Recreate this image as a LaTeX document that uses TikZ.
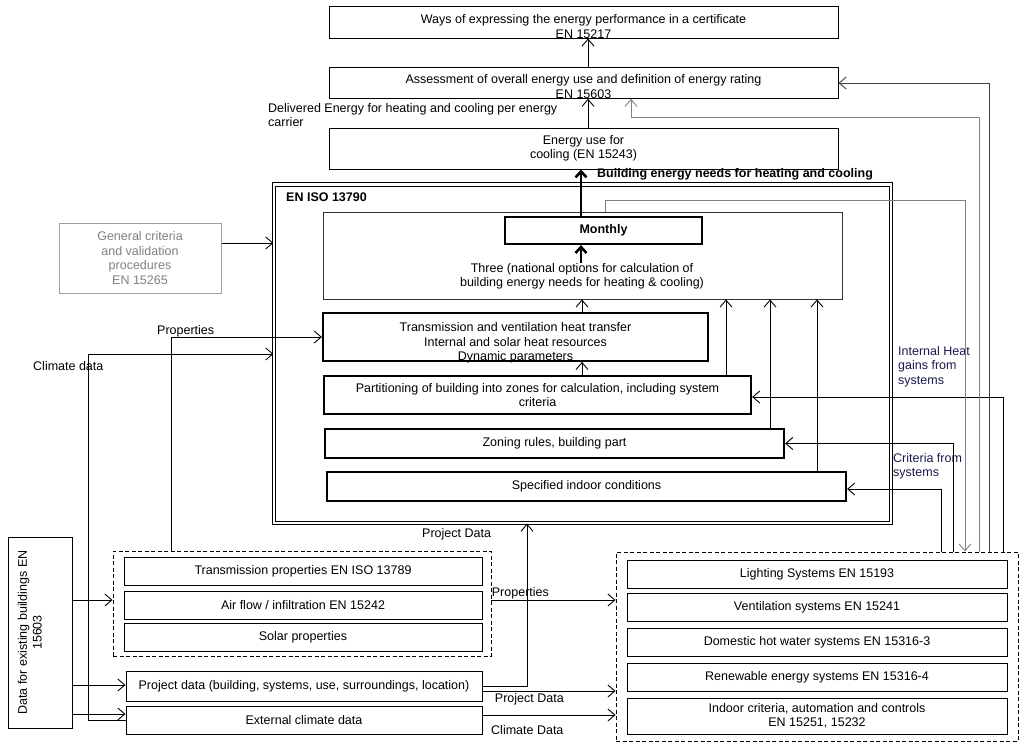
\documentclass[tikz,border=0pt]{standalone}
\usepackage{fontspec}
\setmainfont{Liberation Sans}
\usetikzlibrary{arrows.meta}
\definecolor{labelblue}{RGB}{25,25,80}
\begin{document}
\begin{tikzpicture}[x=1pt,y=-1pt,
  font=\fontsize{12.5}{14.5}\selectfont,
  box/.style={draw, line width=1pt, align=center, inner sep=0pt},
  thickbox/.style={box, line width=2.2pt},
  grpbox/.style={draw, line width=0.9pt, dash pattern=on 4pt off 2.5pt},
  drop/.style 2 args={text height=#1, text depth=#2},
  bold/.style={font=\fontsize{12.5}{14.5}\selectfont\bfseries},
  txt/.style={inner sep=0pt, align=left},
  arr/.style={-{Straight Barb[length=7pt,width=12pt]}, line width=0.9pt},
  thickarr/.style={-{Straight Barb[length=6pt,width=11pt]}, line width=2.6pt}]
\useasboundingbox (0,0) rectangle (1024,747);

% certificate, rating and energy use
\node[box, minimum width=509, minimum height=30, drop={32pt}{-2pt}] (ways) at (583.5,22)
  {Ways of expressing the energy performance in a certificate\\EN 15217};
\node[box, minimum width=509, minimum height=30, drop={30.5pt}{-0.5pt}] (assess) at (583.5,83)
  {Assessment of overall energy use and definition of energy rating\\EN 15603};
\node[box, minimum width=509, minimum height=41] (energy) at (583.5,148.5)
  {Energy use for\\cooling (EN 15243)};
\node[txt, anchor=north west] (delivered) at (268,103)
  {Delivered Energy for heating and cooling per energy\\carrier};

% EN ISO 13790
\node[draw, line width=1.2pt, double, double distance=2.3pt, minimum width=617, minimum height=338.5] (iso) at (582.5,353.75) {};
\node[txt, bold, anchor=west] (isolabel) at (286,197) {EN ISO 13790};
\node[txt, bold, anchor=west] (needs) at (597,174) {Building energy needs for heating and cooling};
\node[box, draw=black!80, line width=0.9pt, minimum width=519, minimum height=87] (three) at (582.5,255.5) {};
\node[thickbox, bold, minimum width=197, minimum height=27] (monthly) at (603.5,230.5) {Monthly};
\node[txt, align=center] (threetext) at (582,276.5)
  {Three (national options for calculation of\\building energy needs for heating \& cooling)};
\node[thickbox, minimum width=385, minimum height=46, drop={47.5pt}{-1.5pt}] (trans) at (515.5,337)
  {Transmission and ventilation heat transfer\\Internal and solar heat resources\\Dynamic parameters};
\node[thickbox, minimum width=427, minimum height=38] (part) at (537.5,395)
  {Partitioning of building into zones for calculation, including system\\criteria};
\node[thickbox, minimum width=459, minimum height=29] (zoning) at (554.5,443.5) {Zoning rules, building part};
\node[thickbox, minimum width=519, minimum height=29] (spec) at (586.5,486.5) {Specified indoor conditions};

% inputs on the left
\node[box, draw=gray!75, text=gray, minimum width=162, minimum height=70] (general) at (140,258)
  {General criteria\\and validation\\procedures\\EN 15265};
\node[box, rotate=90, minimum width=191, minimum height=64, drop={33.5pt}{30.5pt}] (data) at (40,632.5)
  {Data for existing buildings EN\\15603};

\node[grpbox, minimum width=378, minimum height=105] (propgrp) at (302,603.5) {};
\node[box, minimum width=358, minimum height=28] (tprop) at (303,571) {Transmission properties EN ISO 13789};
\node[box, minimum width=358, minimum height=28] (airflow) at (303,605) {Air flow / infiltration EN 15242};
\node[box, minimum width=358, minimum height=28] (solar) at (303,637) {Solar properties};
\node[box, minimum width=356, minimum height=30] (projd) at (304,686) {Project data (building, systems, use, surroundings, location)};
\node[box, minimum width=356, minimum height=28] (extclim) at (304,720) {External climate data};

% systems
\node[grpbox, minimum width=402, minimum height=189] (sysgrp) at (817,646.5) {};
\node[box, minimum width=380, minimum height=28] (light) at (817,574) {Lighting Systems EN 15193};
\node[box, minimum width=380, minimum height=28] (vent) at (817,607) {Ventilation systems EN 15241};
\node[box, minimum width=380, minimum height=28] (dhw) at (817,642) {Domestic hot water systems EN 15316-3};
\node[box, minimum width=380, minimum height=28] (renew) at (817,677) {Renewable energy systems EN 15316-4};
\node[box, minimum width=380, minimum height=36] (indoor) at (817,716) {Indoor criteria, automation and controls\\EN 15251, 15232};

% labels
\node[txt, text=labelblue, anchor=north west] (gains) at (898,346) {Internal Heat\\gains from\\systems};
\node[txt, text=labelblue, anchor=north west] (criteria) at (893,453) {Criteria from\\systems};
\node[txt, anchor=west] (proptop) at (157,331) {Properties};
\node[txt, anchor=west] (climtop) at (33,366) {Climate data};
\node[txt, anchor=west] (projtop) at (422,534) {Project Data};

% connectors
\draw[arr] (588,0 |- assess.north) -- (588,0 |- ways.south);
\draw[arr] (588,0 |- energy.north) -- (588,0 |- assess.south);
\draw[thickarr] (581,0 |- monthly.north) -- (581,0 |- energy.south);
\draw[thickarr] (581,0 |- threetext.north) -- (581,0 |- monthly.south);
\draw[arr] (582,0 |- trans.north) -- (582,0 |- three.south);
\draw[arr] (582,0 |- part.north) -- (582,0 |- trans.south);
\foreach \x/\n in {726/part, 770/zoning, 817/spec}
  \draw[arr] (\x,0 |- \n.north) -- (\x,0 |- three.south);

\draw[arr] (1003,0 |- sysgrp.north) |- (part.east |- 0,397);
\draw[arr] (953,0 |- sysgrp.north) |- (zoning.east);
\draw[arr] (941,0 |- sysgrp.north) |- (spec.east |- 0,489);
\draw[arr, draw=gray] (605,0 |- three.north) |- (965,200) -- (965,0 |- sysgrp.north);
\draw[arr, draw=gray] (979,0 |- sysgrp.north) |- (631,117) -- (631,0 |- assess.south);
\draw[arr, draw=black!75] (989,0 |- sysgrp.north) |- (assess.east);

\draw[arr] (general.east |- 0,243) -- (iso.west |- 0,243);
\draw[arr] (171,0 |- propgrp.north) |- (trans.west);
\draw[arr] (extclim.west) -- (88,0 |- extclim.west) |- (iso.west |- 0,354);
\draw[arr] (data.south |- 0,600) -- (propgrp.west |- 0,600);
\draw[arr] (data.south |- 0,685) -- (projd.west |- 0,685);
\draw[arr] (data.south |- 0,714) -- (extclim.west |- 0,714);

\draw[arr] (propgrp.east |- 0,600) -- node[txt, pos=0, anchor=south west] (propbot) {Properties} (sysgrp.west |- 0,600);
\draw[arr] (projd.east |- 0,686) -- (527,686) -- (527,0 |- iso.south);
\draw[arr] (projd.east |- 0,691) -- node[txt, pos=0, anchor=north west, yshift=-1.5pt, xshift=12pt] (projbot) {Project Data} (sysgrp.west |- 0,691);
\draw[arr] (extclim.east |- 0,715) -- (sysgrp.west |- 0,715);
\node[txt, anchor=west] (climbot) at (491,730) {Climate Data};
\end{tikzpicture}
\end{document}
